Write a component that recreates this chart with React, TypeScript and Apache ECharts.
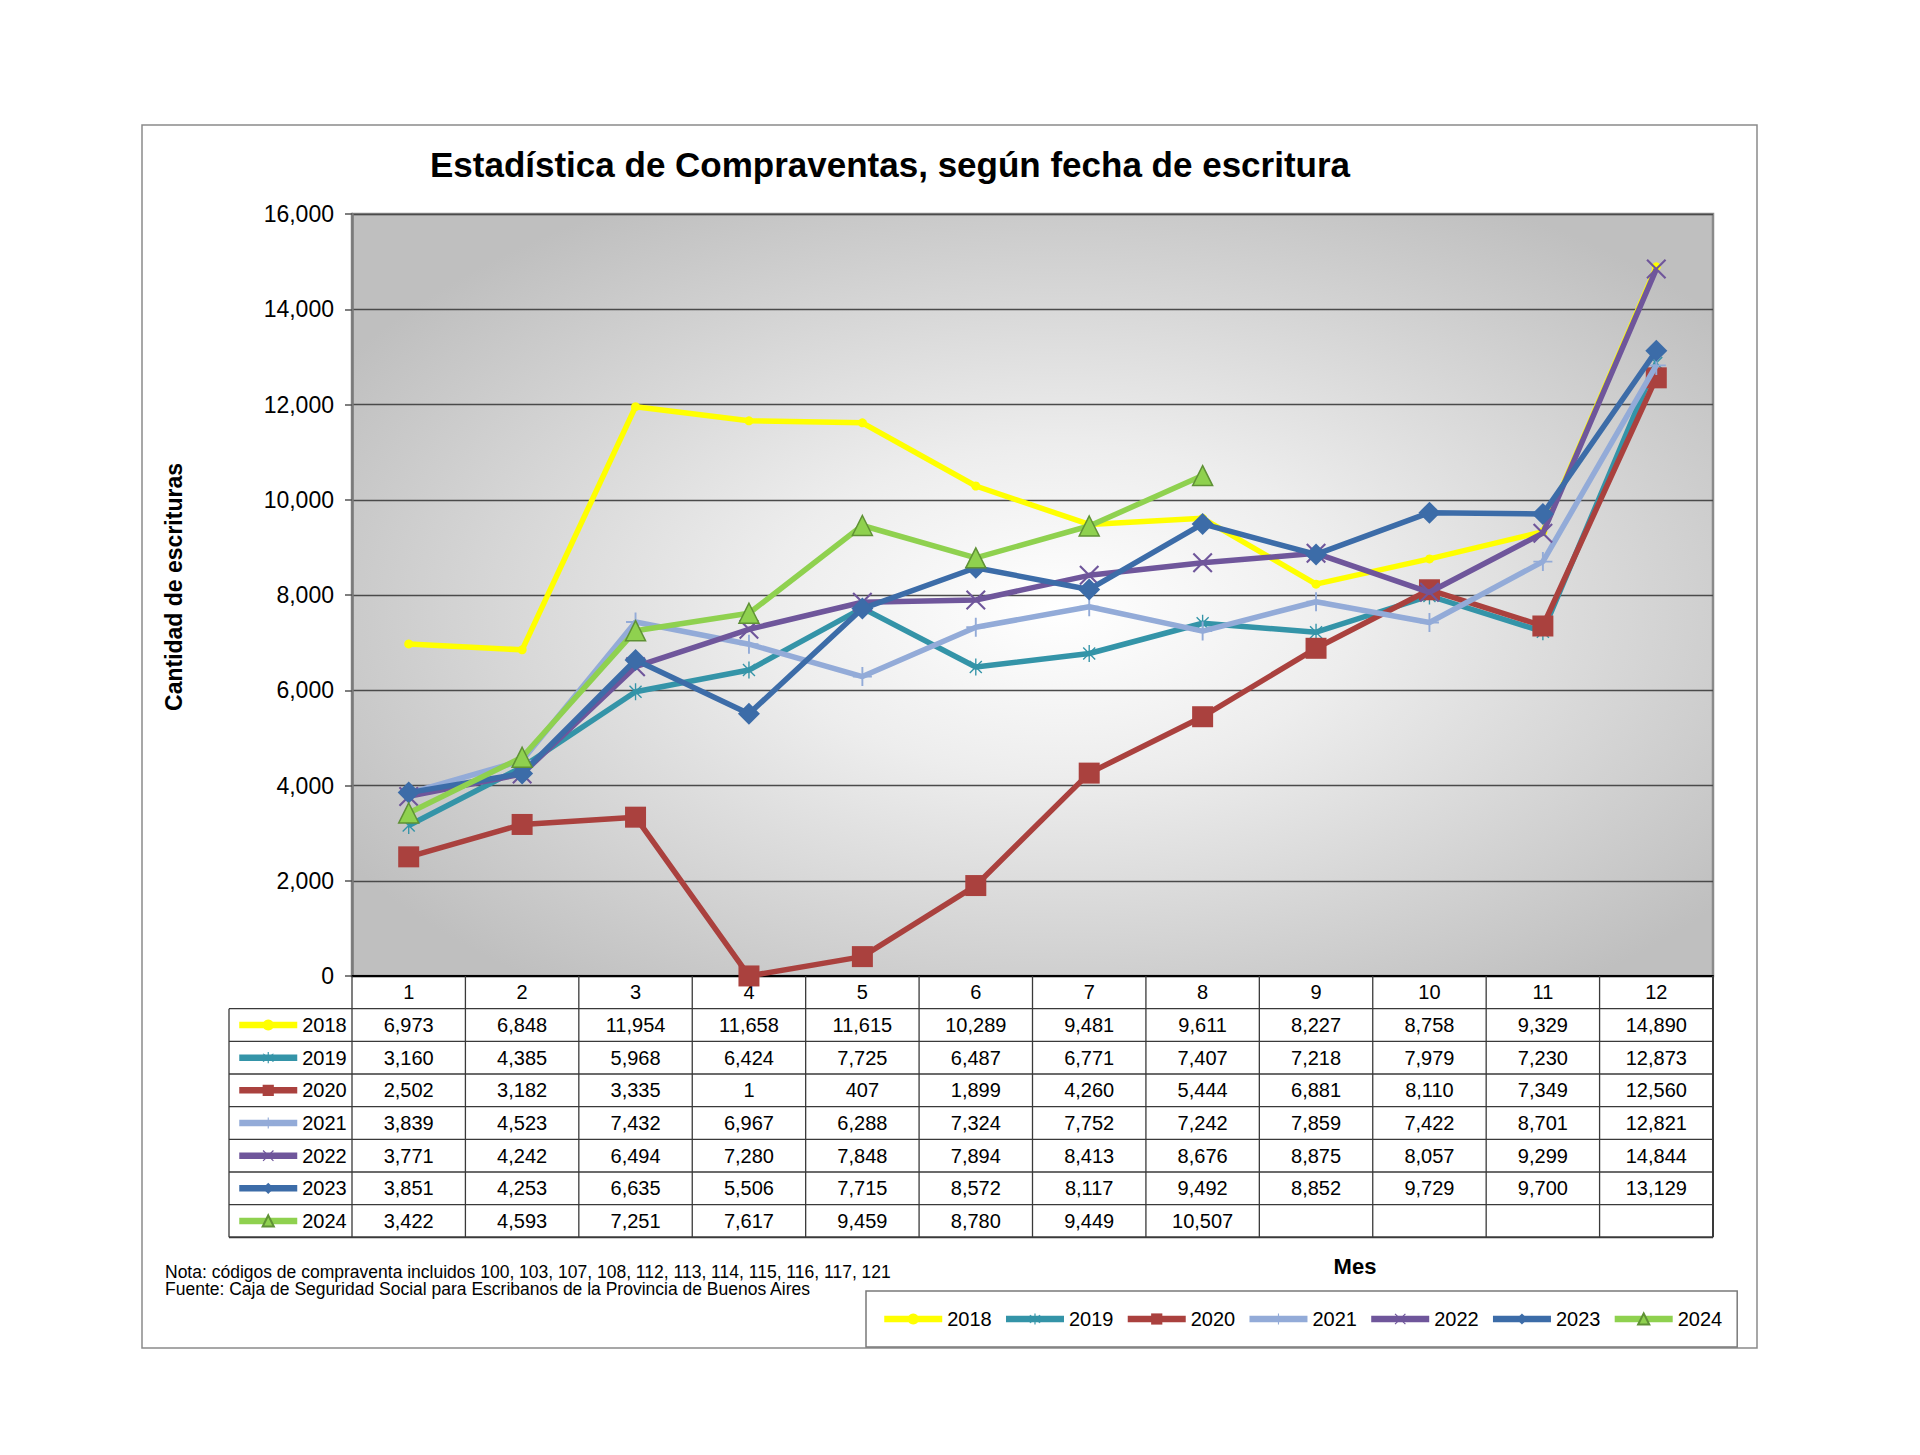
import React, { useEffect, useRef } from 'react';
import * as echarts from 'echarts';

const months = ['1', '2', '3', '4', '5', '6', '7', '8', '9', '10', '11', '12'];
const years = ['2018', '2019', '2020', '2021', '2022', '2023', '2024'];

const v2018 = [6973, 6848, 11954, 11658, 11615, 10289, 9481, 9611, 8227, 8758, 9329, 14890];
const v2019 = [3160, 4385, 5968, 6424, 7725, 6487, 6771, 7407, 7218, 7979, 7230, 12873];
const v2020 = [2502, 3182, 3335, 1, 407, 1899, 4260, 5444, 6881, 8110, 7349, 12560];
const v2021 = [3839, 4523, 7432, 6967, 6288, 7324, 7752, 7242, 7859, 7422, 8701, 12821];
const v2022 = [3771, 4242, 6494, 7280, 7848, 7894, 8413, 8676, 8875, 8057, 9299, 14844];
const v2023 = [3851, 4253, 6635, 5506, 7715, 8572, 8117, 9492, 8852, 9729, 9700, 13129];
const v2024: (number | null)[] = [3422, 4593, 7251, 7617, 9459, 8780, 9449, 10507, null, null, null, null];

const yMin = 0;
const yMax = 16000;
const yStep = 2000;

const titleText = 'Estadística de Compraventas, según fecha de escritura';
const yAxisTitle = 'Cantidad de escrituras';
const xAxisTitle = 'Mes';
const noteLines = [
  'Nota: códigos de compraventa incluidos 100, 103, 107, 108, 112, 113, 114, 115, 116, 117, 121',
  'Fuente: Caja de Seguridad Social para Escribanos de la Provincia de Buenos Aires',
];

const allValues = [v2018, v2019, v2020, v2021, v2022, v2023, v2024];

const FONT = '"Liberation Sans", Arial, Helvetica, sans-serif';

const PLUS = 'path://M-1,-10 L1,-10 L1,-1 L10,-1 L10,1 L1,1 L1,10 L-1,10 L-1,1 L-10,1 L-10,-1 L-1,-1 Z';
const CROSS =
  'path://M-6.5,-7.64 L7.64,6.5 L6.5,7.64 L-7.64,-6.5 Z M6.5,-7.64 L7.64,-6.5 L-6.5,7.64 L-7.64,6.5 Z';
const STAR =
  'path://M-0.8,-10 L0.8,-10 L0.8,10 L-0.8,10 Z M-6.5,-7.64 L7.64,6.5 L6.5,7.64 L-7.64,-6.5 Z M6.5,-7.64 L7.64,-6.5 L-6.5,7.64 L-7.64,6.5 Z';

const styles = [
  { color: '#ffff00', symbol: 'circle', size: 9, border: '#ffff00' },
  { color: '#3494a8', symbol: STAR, size: 17, border: '#3494a8' },
  { color: '#aa413e', symbol: 'rect', size: 21, border: '#aa413e' },
  { color: '#93abd8', symbol: PLUS, size: 19, border: '#93abd8' },
  { color: '#6f569b', symbol: CROSS, size: 20, border: '#6f569b' },
  { color: '#3c6ca8', symbol: 'diamond', size: 22, border: '#3c6ca8' },
  { color: '#8fd14f', symbol: 'triangle', size: 20, border: '#5f9135' },
];

const fmt = (v: number | null) => (v == null ? '' : v.toLocaleString('en-US'));

export default function App() {
  const ref = useRef<HTMLDivElement>(null);

  useEffect(() => {
    document.body.style.margin = '0';
    const chart = echarts.init(ref.current!, null, { renderer: 'svg' });

    const gridLeft = 352;
    const gridRight = 207;
    const gridTop = 214;
    const gridBottomY = 976;

    const series = years.map((y, i) => ({
      name: y,
      type: 'line',
      data: allValues[i],
      symbol: styles[i].symbol,
      symbolSize: styles[i].size,
      symbolKeepAspect: true,
      showAllSymbol: true,
      connectNulls: false,
      lineStyle: { color: styles[i].color, width: 5.5 },
      itemStyle: {
        color: styles[i].color,
        borderColor: styles[i].border,
        borderWidth: i === 6 ? 1.5 : 0,
      },
      z: 2 + i,
    }));

    const legendLine = { width: 6.5, cap: 'butt' };

    const option: any = {
      animation: false,
      textStyle: { fontFamily: FONT },
      grid: {
        left: gridLeft,
        right: gridRight,
        top: gridTop,
        bottom: 1455 - gridBottomY,
        show: true,
        borderColor: '#8a8a8a',
        borderWidth: 2.5,
        backgroundColor: new echarts.graphic.RadialGradient(0.52, 0.52, 0.62, [
          { offset: 0, color: '#ffffff' },
          { offset: 0.35, color: '#ededed' },
          { offset: 1, color: '#bfbfbf' },
        ]),
      },
      xAxis: {
        type: 'category',
        data: months,
        boundaryGap: true,
        axisLine: { show: true, lineStyle: { color: '#000000', width: 2 } },
        axisTick: { show: false },
        axisLabel: {
          color: '#000',
          fontSize: 20,
          fontFamily: FONT,
          margin: 16,
          verticalAlign: 'middle',
        },
        splitLine: { show: false },
      },
      yAxis: {
        type: 'value',
        min: yMin,
        max: yMax,
        interval: yStep,
        axisLine: { show: true, lineStyle: { color: '#7a7a7a', width: 2.5 } },
        axisTick: { show: true, length: 7, lineStyle: { color: '#555', width: 1.5 } },
        axisLabel: {
          color: '#000',
          fontSize: 23,
          fontFamily: FONT,
          margin: 18,
          formatter: (v: number) => v.toLocaleString('en-US'),
        },
        splitLine: { show: true, lineStyle: { color: '#4a4a4a', width: 1.3 } },
      },
      legend: [
        {
          data: years,
          left: 866,
          top: 1291,
          orient: 'horizontal',
          itemWidth: 58,
          itemHeight: 14,
          itemGap: 11,
          padding: [18, 15, 18, 15],
          borderColor: '#7a7a7a',
          borderWidth: 1.5,
          backgroundColor: '#ffffff',
          selectedMode: false,
          lineStyle: legendLine,
          textStyle: { color: '#000', fontSize: 20, fontFamily: FONT },
        },
        {
          data: years,
          left: 236,
          top: 1015,
          orient: 'vertical',
          itemWidth: 58,
          itemHeight: 14,
          itemGap: 12.66,
          padding: 0,
          selectedMode: false,
          lineStyle: legendLine,
          textStyle: { color: '#000', fontSize: 20, lineHeight: 20, fontFamily: FONT },
        },
      ],
      series,
    };

    chart.setOption(option);

    const centers = months.map((_, i) => chart.convertToPixel({ xAxisIndex: 0 }, i) as number);
    const colW = centers.length > 1 ? centers[1] - centers[0] : 113;
    const leftX = centers[0] - colW / 2;
    const rightX = centers[centers.length - 1] + colW / 2;
    const keyLeft = 229;
    const headerBottom = 1008.7;
    const rowH = 32.66;
    const tableBottom = headerBottom + rowH * years.length;
    const lineColor = '#3a3a3a';

    const g: any[] = [];
    g.push({
      type: 'rect',
      shape: { x: 142, y: 125, width: 1615, height: 1223 },
      style: { fill: 'none', stroke: '#8a8a8a', lineWidth: 1.5 },
      z: -10,
      silent: true,
    });
    g.push({
      type: 'text',
      x: 890,
      y: 164,
      style: {
        text: titleText,
        fill: '#000',
        font: `bold 35px ${FONT}`,
        align: 'center',
        verticalAlign: 'middle',
      },
    });
    g.push({
      type: 'text',
      x: 174,
      y: 587,
      rotation: Math.PI / 2,
      style: {
        text: yAxisTitle,
        fill: '#000',
        font: `bold 23px ${FONT}`,
        align: 'center',
        verticalAlign: 'middle',
      },
    });
    g.push({
      type: 'text',
      x: 1355,
      y: 1266,
      style: {
        text: xAxisTitle,
        fill: '#000',
        font: `bold 22px ${FONT}`,
        align: 'center',
        verticalAlign: 'middle',
      },
    });
    noteLines.forEach((t, i) => {
      g.push({
        type: 'text',
        x: 165,
        y: 1272 + i * 17,
        style: {
          text: t,
          fill: '#000',
          font: `17.5px ${FONT}`,
          align: 'left',
          verticalAlign: 'middle',
        },
      });
    });
    for (let j = 0; j <= months.length; j++) {
      const x = leftX + j * colW;
      g.push({
        type: 'line',
        shape: { x1: x, y1: gridBottomY, x2: x, y2: tableBottom },
        style: { stroke: lineColor, lineWidth: j === months.length ? 2 : 1.3 },
        z: 20,
      });
    }
    g.push({
      type: 'line',
      shape: { x1: keyLeft, y1: headerBottom, x2: keyLeft, y2: tableBottom },
      style: { stroke: lineColor, lineWidth: 1.3 },
      z: 20,
    });
    for (let r = 0; r <= years.length; r++) {
      const y = headerBottom + r * rowH;
      g.push({
        type: 'line',
        shape: { x1: keyLeft, y1: y, x2: rightX, y2: y },
        style: { stroke: lineColor, lineWidth: r === years.length ? 2 : 1.3 },
        z: 20,
      });
    }
    allValues.forEach((vals, r) => {
      const cy = headerBottom + (r + 0.5) * rowH;
      vals.forEach((v, c) => {
        if (v == null) return;
        g.push({
          type: 'text',
          x: centers[c],
          y: cy,
          style: {
            text: fmt(v),
            fill: '#000',
            font: `20px ${FONT}`,
            align: 'center',
            verticalAlign: 'middle',
          },
          z: 21,
        });
      });
    });

    chart.setOption({ graphic: g });

    return () => chart.dispose();
  }, []);

  return <div ref={ref} style={{ width: 1920, height: 1455 }} />;
}
